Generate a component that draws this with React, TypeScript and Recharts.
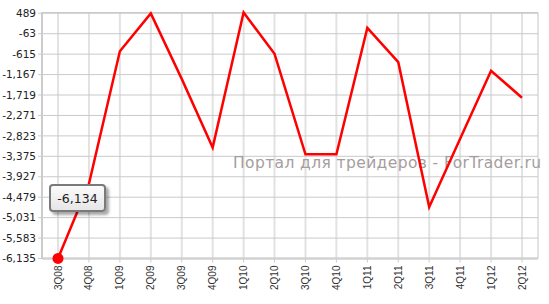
import React from 'react';
import { LineChart, Line, XAxis, YAxis, CartesianGrid, Tooltip } from 'recharts';

const quarters = ['3Q08', '4Q08', '1Q09', '2Q09', '3Q09', '4Q09', '1Q10', '2Q10', '3Q10', '4Q10', '1Q11', '2Q11', '3Q11', '4Q11', '1Q12', '2Q12'];
const values = [-6134, -4117, -536, 485, -1283, -3140, 510, -606, -3321, -3321, 95, -832, -4742, -2903, -1064, -1792];
const yTicks = [489, -63, -615, -1167, -1719, -2271, -2823, -3375, -3927, -4479, -5031, -5583, -6135];
const watermark = 'Портал для трейдеров - ForTrader.ru';

const data = quarters.map((q, i) => ({ q, v: values[i] }));

const fmt = (n: number) => n.toLocaleString('en-US');

const XTick = (props: any) => {
  const { x, y, payload } = props;
  return (
    <text
      transform={`translate(${x},${y + 1}) rotate(-90)`}
      textAnchor="end"
      dy="0.35em"
      fontFamily="'Liberation Sans', Arial, sans-serif"
      fontSize={10}
      fill="#333"
    >
      {payload.value}
    </text>
  );
};

const TipBox = (props: any) => {
  const { active, payload } = props;
  if (!active || !payload || !payload.length) return null;
  return (
    <div
      style={{
        width: 53,
        height: 24,
        border: '2px solid #7a7a7a',
        borderRadius: 4,
        background: 'linear-gradient(#fbfbfb, #e6e6e6)',
        boxShadow: '3px 3px 3px rgba(0,0,0,0.35)',
        display: 'flex',
        alignItems: 'center',
        justifyContent: 'center',
        fontFamily: "'DejaVu Sans', Verdana, sans-serif",
        fontSize: 12.5,
        color: '#222',
      }}
    >
      {fmt(payload[0].value)}
    </div>
  );
};

export default function App() {
  return (
    <div style={{ position: 'absolute', left: 0, top: 0, width: 549, height: 304, background: '#fff' }}>
      <LineChart width={549} height={304} data={data} margin={{ top: 12.5, right: 11, bottom: 6, left: 0 }}>
        <CartesianGrid horizontal={false} stroke="#e2e2e2" strokeWidth={2} />
        <CartesianGrid vertical={false} stroke="#cacaca" strokeWidth={1} />
        <XAxis
          dataKey="q"
          interval={0}
          padding={{ left: 16, right: 16 }}
          height={39.5}
          tick={<XTick />}
          tickSize={4}
          tickLine={{ stroke: '#cccccc' }}
          axisLine={{ stroke: '#d2d2d2', strokeWidth: 2.5 }}
        />
        <YAxis
          domain={[-6135, 489]}
          ticks={yTicks}
          interval={0}
          width={42}
          tickSize={4}
          tickMargin={2}
          tickFormatter={fmt}
          tickLine={{ stroke: '#cccccc' }}
          axisLine={{ stroke: '#cccccc', strokeWidth: 2 }}
          tick={{ fontFamily: "'DejaVu Sans', Verdana, sans-serif", fontSize: 10.5, fill: '#222' }}
        />
        <text
          x={233}
          y={167.5}
          fontFamily="'DejaVu Sans', Verdana, sans-serif"
          fontSize={15.5}
          textLength={308}
          lengthAdjust="spacing"
          fill="#a69d9d"
        >
          {watermark}
        </text>
        <Line
          type="linear"
          dataKey="v"
          stroke="#ff0000"
          strokeWidth={2.5}
          dot={false}
          activeDot={{ r: 5.5, fill: '#ff0000', stroke: 'none' }}
          isAnimationActive={false}
        />
        <Tooltip
          defaultIndex={0}
          cursor={false}
          isAnimationActive={false}
          position={{ x: 49, y: 184 }}
          content={<TipBox />}
          wrapperStyle={{ outline: 'none' }}
        />
      </LineChart>
    </div>
  );
}
